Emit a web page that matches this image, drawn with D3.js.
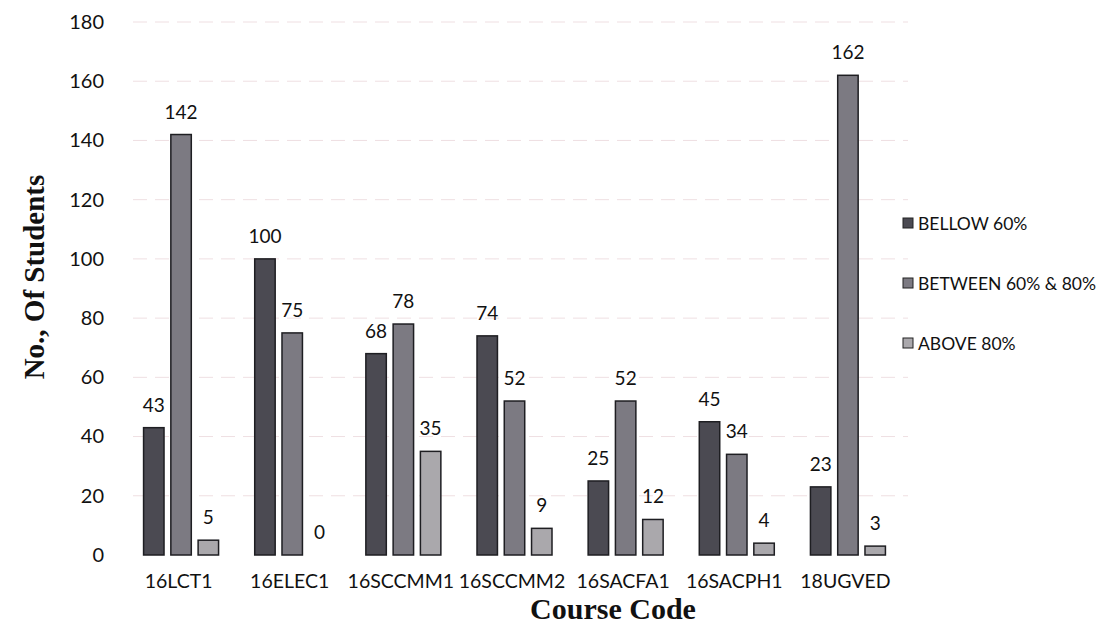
<!DOCTYPE html>
<html><head><meta charset="utf-8">
<script src="https://cdn.jsdelivr.net/npm/d3@7/dist/d3.min.js"></script>
<style>body{margin:0;background:#fff}</style>
</head><body>
<svg id="chart" width="1114" height="625"></svg>
<script>
const categories = ["16LCT1","16ELEC1","16SCCMM1","16SCCMM2","16SACFA1","16SACPH1","18UGVED"];
const seriesNames = ["BELLOW 60%","BETWEEN 60% & 80%","ABOVE 80%"];
const bellow60 = [43,100,68,74,25,45,23];
const between60_80 = [142,75,78,52,52,34,162];
const above80 = [5,0,35,9,12,4,3];
const yTicks = [0,20,40,60,80,100,120,140,160,180];
const colors = ["#4b4a52","#7c7a82","#aaa8ac"];

const series = [bellow60, between60_80, above80];
const svg = d3.select("#chart");
const font = "Lato, 'Open Sans', sans-serif";

const x = d3.scaleBand().domain(categories).range([123,901]).paddingInner(0).paddingOuter(0);
const xs = d3.scaleBand().domain(d3.range(3)).range([x.bandwidth()/2-35, x.bandwidth()/2+40]).paddingInner(0.25).paddingOuter(0);
const y = d3.scaleLinear().domain([0,180]).range([555,22]);

// gridlines
svg.append("g").selectAll("line").data(yTicks.filter(d=>d>0)).join("line")
  .attr("x1",133).attr("x2",908)
  .attr("y1",d=>y(d)).attr("y2",d=>y(d))
  .attr("stroke","#efdfe2").attr("stroke-width",1).attr("stroke-dasharray","14,8");

// y axis
const yAxis = svg.append("g").attr("transform","translate(104,0)")
  .call(d3.axisLeft(y).tickValues(yTicks).tickSize(0).tickPadding(0));
yAxis.select(".domain").remove();
yAxis.selectAll("text").attr("font-family",font).attr("font-size",20).attr("fill","#111");

// x axis
const xAxis = svg.append("g").attr("transform","translate(0,572)")
  .call(d3.axisBottom(x).tickSize(0).tickPadding(0));
xAxis.select(".domain").remove();
xAxis.selectAll("text").attr("font-family",font).attr("font-size",19.5).attr("fill","#111").attr("dy","0.8em");

// bars
series.forEach((vals,si)=>{
  const g = svg.append("g");
  g.selectAll("rect").data(categories.map((c,i)=>({c,v:vals[i]}))).join("rect")
    .attr("x",d=>x(d.c)+xs(si))
    .attr("width",xs.bandwidth())
    .attr("y",d=>y(d.v))
    .attr("height",d=>y(0)-y(d.v))
    .attr("fill",colors[si])
    .attr("stroke","#1e1e22").attr("stroke-width",1.5);
  g.selectAll("text").data(categories.map((c,i)=>({c,v:vals[i]}))).join("text")
    .attr("x",d=>x(d.c)+xs(si)+xs.bandwidth()/2)
    .attr("y",d=>y(d.v)-16)
    .attr("text-anchor","middle")
    .attr("font-family",font).attr("font-size",19).attr("fill","#111")
    .text(d=>d.v);
});

// axis titles
svg.append("text").attr("transform","translate(44,277) rotate(-90)")
  .attr("text-anchor","middle").attr("font-family","'Liberation Serif', 'DejaVu Serif', serif")
  .attr("font-weight","bold").attr("font-size",29).attr("fill","#111").text("No., Of Students");
svg.append("text").attr("x",613).attr("y",619)
  .attr("text-anchor","middle").attr("font-family","'Liberation Serif', 'DejaVu Serif', serif")
  .attr("font-weight","bold").attr("font-size",30).attr("fill","#111").text("Course Code");

// legend
const lg = svg.append("g").attr("transform","translate(903,0)");
seriesNames.forEach((n,i)=>{
  const yy = 223 + i*60;
  lg.append("rect").attr("x",0).attr("y",yy-5).attr("width",10).attr("height",10)
    .attr("fill",colors[i]).attr("stroke","#222").attr("stroke-width",1);
  lg.append("text").attr("x",15).attr("y",yy+1).attr("dy","0.35em")
    .attr("font-family",font).attr("font-size",17.5).attr("fill","#111").text(n);
});
</script>
</body></html>
